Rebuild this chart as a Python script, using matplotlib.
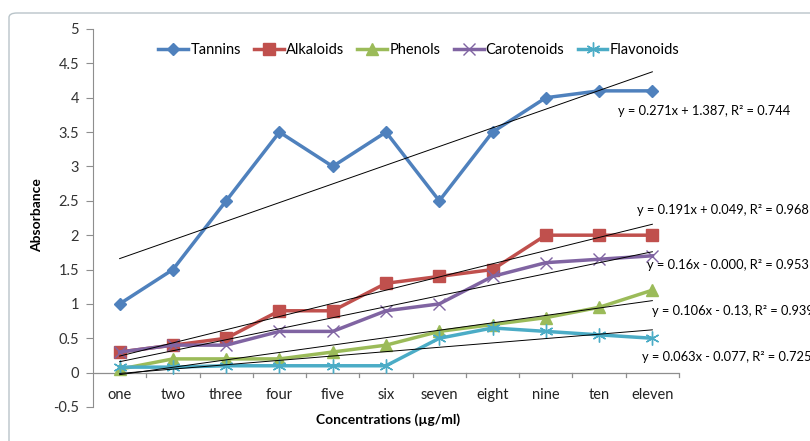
import numpy as np
import matplotlib
matplotlib.use("Agg")
import matplotlib.pyplot as plt
from matplotlib.patches import FancyBboxPatch

plt.rcParams['font.family'] = ['Lato', 'DejaVu Sans']

categories = ["one", "two", "three", "four", "five", "six", "seven", "eight", "nine", "ten", "eleven"]
tannins = [1.0, 1.5, 2.5, 3.5, 3.0, 3.5, 2.5, 3.5, 4.0, 4.1, 4.1]
alkaloids = [0.3, 0.4, 0.5, 0.9, 0.9, 1.3, 1.4, 1.5, 2.0, 2.0, 2.0]
phenols = [0.05, 0.2, 0.2, 0.2, 0.3, 0.4, 0.6, 0.7, 0.8, 0.95, 1.2]
carotenoids = [0.3, 0.4, 0.4, 0.6, 0.6, 0.9, 1.0, 1.4, 1.6, 1.65, 1.7]
flavonoids = [0.08, 0.08, 0.1, 0.1, 0.1, 0.1, 0.5, 0.65, 0.6, 0.55, 0.5]

series_names = ["Tannins", "Alkaloids", "Phenols", "Carotenoids", "Flavonoids"]
equations = ["y = 0.271x + 1.387, R² = 0.744",
             "y = 0.191x + 0.049, R² = 0.968",
             "y = 0.106x - 0.13, R² = 0.939",
             "y = 0.16x - 0.000, R² = 0.953",
             "y = 0.063x - 0.077, R² = 0.725"]

colors = ["#4F81BD", "#C0504D", "#9BBB59", "#8064A2", "#4BACC6"]
markers = ["D", "s", "^", "x", (6, 2, 0)]
msizes = [6, 8, 8, 9, 10]
eq_pos = [(10.36, 3.80), (10.71, 2.37), (10.99, 0.89), (10.90, 1.57), (10.81, 0.23)]

fig = plt.figure(figsize=(8.1, 4.41), dpi=100)
frame = FancyBboxPatch((9/810, -0.05), 1.0, 1 - 13/441 + 0.05,
                       boxstyle="round,pad=0,rounding_size=0.01",
                       transform=fig.transFigure, fill=False,
                       edgecolor="#B9C4C9", linewidth=1.0, clip_on=False)
fig.patches.append(frame)

ax = fig.add_axes([93/810, 1 - 407/441, (679 - 93)/810, (407 - 29)/441])
x = np.arange(1, len(categories) + 1)
data = [tannins, alkaloids, phenols, carotenoids, flavonoids]

for name, vals, c, m, ms in zip(series_names, data, colors, markers, msizes):
    ax.plot(x, vals, color=c, marker=m, markersize=ms, linewidth=2.5,
            markeredgewidth=1.0, label=name, zorder=3)

for vals, eq, (tx, ty) in zip(data, equations, eq_pos):
    k, b = np.polyfit(x, vals, 1)
    ax.plot([1, 11], [k * 1 + b, k * 11 + b], color="black", linewidth=0.7, zorder=4)
    ax.text(tx, ty, eq, fontsize=9.3, color="black", ha="left", va="center",
            clip_on=False)

ax.set_xlim(0.5, 11.5)
ax.set_ylim(-0.5, 5)
ticks = np.arange(-0.5, 5.01, 0.5)
ax.set_yticks(ticks)
ax.set_yticklabels([("%g" % v) for v in ticks])
ax.set_xticks([])
for s in ["top", "right", "bottom"]:
    ax.spines[s].set_visible(False)
ax.spines["left"].set_color("#8E8E8E")
ax.tick_params(axis="y", colors="#8E8E8E", labelcolor="#333333", labelsize=10.5,
               length=5, direction="out", pad=5)

ax.axhline(0, color="#8E8E8E", linewidth=0.9, zorder=1)
for b in np.arange(1.5, 11.6, 1.0):
    ax.plot([b, b], [0, -0.07], color="#8E8E8E", linewidth=0.9, clip_on=False, zorder=1)
for xi, lab in zip(x, categories):
    ax.text(xi, -0.32, lab, ha="center", va="center", fontsize=10.5, color="#222222")

fig.text(37/810, 1 - 215/441, "Absorbance", ha="center", va="center", rotation=90,
         fontsize=10, fontweight="bold")
fig.text(388/810, 1 - 420/441, "Concentrations (µg/ml)", ha="center", va="center",
         fontsize=10, fontweight="bold")

leg = ax.legend(loc="upper center", bbox_to_anchor=(0.556, 0.99), ncol=5,
                frameon=False, fontsize=10.5, handlelength=2.05, columnspacing=0.9,
                handletextpad=0.15, borderaxespad=0.3)

fig.savefig("out.png", dpi=100)
